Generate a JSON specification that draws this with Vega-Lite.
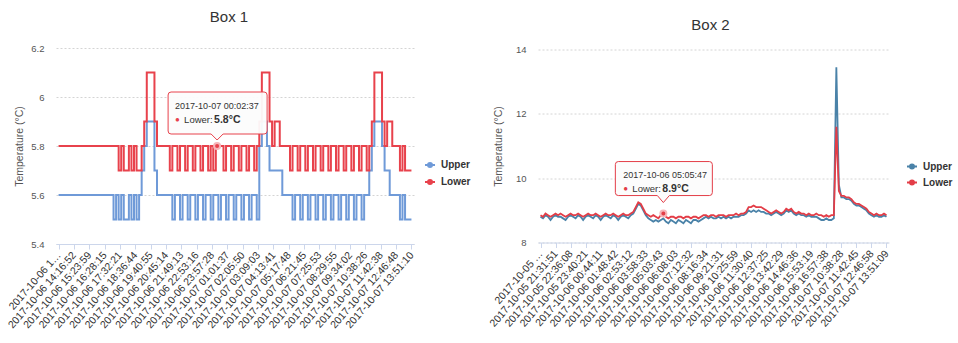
{
"$schema": "https://vega.github.io/schema/vega-lite/v6.json",
"background": "white",
"padding": {"left": 6, "top": 10, "right": 5, "bottom": 5},
"config": {
  "font": "Liberation Sans",
  "view": {"stroke": null},
  "title": {"fontSize": 15, "fontWeight": "normal", "color": "#333333", "anchor": "middle"},
  "axis": {"labelFont": "Liberation Sans", "titleFont": "Liberation Sans"},
  "legend": {"labelFont": "Liberation Sans"}
},
"spacing": 124,
"bounds": "flush",
"center": true,
"resolve": {"scale": {"x": "independent", "y": "independent", "color": "independent"}, "legend": {"color": "independent"}},
"hconcat": [
{
  "width": 358, "height": 196,
  "title": {"text": "Box 1", "offset": 6, "baseline": "alphabetic", "dx": -6},
  "layer": [
    {
      "data": {"values": [
{"t":"2017-10-06 13:12:41","Upper":5.6,"Lower":5.8},{"t":"2017-10-06 13:23:41","Upper":5.6,"Lower":5.8},{"t":"2017-10-06 13:33:41","Upper":5.6,"Lower":5.8},{"t":"2017-10-06 13:44:41","Upper":5.6,"Lower":5.8},{"t":"2017-10-06 13:55:41","Upper":5.6,"Lower":5.8},{"t":"2017-10-06 14:05:41","Upper":5.6,"Lower":5.8},
{"t":"2017-10-06 14:16:52","Upper":5.6,"Lower":5.8},{"t":"2017-10-06 14:27:52","Upper":5.6,"Lower":5.8},{"t":"2017-10-06 14:37:52","Upper":5.6,"Lower":5.8},{"t":"2017-10-06 14:48:52","Upper":5.6,"Lower":5.8},{"t":"2017-10-06 14:59:52","Upper":5.6,"Lower":5.8},{"t":"2017-10-06 15:09:52","Upper":5.6,"Lower":5.8},
{"t":"2017-10-06 15:23:59","Upper":5.6,"Lower":5.8},{"t":"2017-10-06 15:34:59","Upper":5.6,"Lower":5.8},{"t":"2017-10-06 15:44:59","Upper":5.6,"Lower":5.8},{"t":"2017-10-06 15:55:59","Upper":5.6,"Lower":5.8},{"t":"2017-10-06 16:06:59","Upper":5.6,"Lower":5.8},{"t":"2017-10-06 16:16:59","Upper":5.6,"Lower":5.8},
{"t":"2017-10-06 16:28:15","Upper":5.6,"Lower":5.8},{"t":"2017-10-06 16:39:15","Upper":5.6,"Lower":5.8},{"t":"2017-10-06 16:49:15","Upper":5.6,"Lower":5.8},{"t":"2017-10-06 17:00:15","Upper":5.6,"Lower":5.8},{"t":"2017-10-06 17:11:15","Upper":5.5,"Lower":5.8},{"t":"2017-10-06 17:21:15","Upper":5.6,"Lower":5.8},
{"t":"2017-10-06 17:32:21","Upper":5.5,"Lower":5.7},{"t":"2017-10-06 17:43:21","Upper":5.6,"Lower":5.8},{"t":"2017-10-06 17:53:21","Upper":5.5,"Lower":5.7},{"t":"2017-10-06 18:04:21","Upper":5.5,"Lower":5.7},{"t":"2017-10-06 18:15:21","Upper":5.6,"Lower":5.8},{"t":"2017-10-06 18:25:21","Upper":5.5,"Lower":5.7},
{"t":"2017-10-06 18:36:44","Upper":5.6,"Lower":5.8},{"t":"2017-10-06 18:47:44","Upper":5.5,"Lower":5.7},{"t":"2017-10-06 18:57:44","Upper":5.6,"Lower":5.7},{"t":"2017-10-06 19:08:44","Upper":5.7,"Lower":5.8},{"t":"2017-10-06 19:19:44","Upper":5.8,"Lower":5.9},{"t":"2017-10-06 19:29:44","Upper":5.9,"Lower":6.1},
{"t":"2017-10-06 19:40:55","Upper":5.9,"Lower":6.1},{"t":"2017-10-06 19:51:55","Upper":5.9,"Lower":6.1},{"t":"2017-10-06 20:01:55","Upper":5.7,"Lower":5.9},{"t":"2017-10-06 20:12:55","Upper":5.6,"Lower":5.8},{"t":"2017-10-06 20:23:55","Upper":5.6,"Lower":5.8},{"t":"2017-10-06 20:33:55","Upper":5.6,"Lower":5.8},
{"t":"2017-10-06 20:45:14","Upper":5.6,"Lower":5.8},{"t":"2017-10-06 20:56:14","Upper":5.6,"Lower":5.8},{"t":"2017-10-06 21:06:14","Upper":5.6,"Lower":5.7},{"t":"2017-10-06 21:17:14","Upper":5.5,"Lower":5.8},{"t":"2017-10-06 21:28:14","Upper":5.6,"Lower":5.8},{"t":"2017-10-06 21:38:14","Upper":5.6,"Lower":5.7},
{"t":"2017-10-06 21:49:13","Upper":5.5,"Lower":5.8},{"t":"2017-10-06 22:00:13","Upper":5.6,"Lower":5.8},{"t":"2017-10-06 22:10:13","Upper":5.6,"Lower":5.7},{"t":"2017-10-06 22:21:13","Upper":5.5,"Lower":5.8},{"t":"2017-10-06 22:32:13","Upper":5.6,"Lower":5.8},{"t":"2017-10-06 22:42:13","Upper":5.6,"Lower":5.7},
{"t":"2017-10-06 22:53:16","Upper":5.5,"Lower":5.8},{"t":"2017-10-06 23:04:16","Upper":5.6,"Lower":5.8},{"t":"2017-10-06 23:14:16","Upper":5.6,"Lower":5.7},{"t":"2017-10-06 23:25:16","Upper":5.5,"Lower":5.8},{"t":"2017-10-06 23:36:16","Upper":5.6,"Lower":5.8},{"t":"2017-10-06 23:46:16","Upper":5.6,"Lower":5.7},
{"t":"2017-10-06 23:57:28","Upper":5.5,"Lower":5.8},{"t":"2017-10-07 00:00:03","Upper":5.6,"Lower":5.7},{"t":"2017-10-07 00:02:37","Upper":5.6,"Lower":5.8},{"t":"2017-10-07 00:19:28","Upper":5.5,"Lower":5.8},{"t":"2017-10-07 00:33:28","Upper":5.6,"Lower":5.8},{"t":"2017-10-07 00:47:28","Upper":5.6,"Lower":5.7},
{"t":"2017-10-07 01:01:37","Upper":5.5,"Lower":5.8},{"t":"2017-10-07 01:12:37","Upper":5.6,"Lower":5.8},{"t":"2017-10-07 01:22:37","Upper":5.6,"Lower":5.7},{"t":"2017-10-07 01:33:37","Upper":5.5,"Lower":5.8},{"t":"2017-10-07 01:44:37","Upper":5.6,"Lower":5.8},{"t":"2017-10-07 01:54:37","Upper":5.6,"Lower":5.7},
{"t":"2017-10-07 02:05:50","Upper":5.5,"Lower":5.8},{"t":"2017-10-07 02:16:50","Upper":5.6,"Lower":5.8},{"t":"2017-10-07 02:26:50","Upper":5.6,"Lower":5.7},{"t":"2017-10-07 02:37:50","Upper":5.5,"Lower":5.8},{"t":"2017-10-07 02:48:50","Upper":5.6,"Lower":5.8},{"t":"2017-10-07 02:58:50","Upper":5.6,"Lower":5.7},
{"t":"2017-10-07 03:09:03","Upper":5.5,"Lower":5.8},{"t":"2017-10-07 03:20:03","Upper":5.8,"Lower":5.9},{"t":"2017-10-07 03:30:03","Upper":5.9,"Lower":6.1},{"t":"2017-10-07 03:41:03","Upper":5.9,"Lower":6.1},{"t":"2017-10-07 03:52:03","Upper":5.8,"Lower":6.1},{"t":"2017-10-07 04:02:03","Upper":5.7,"Lower":5.9},
{"t":"2017-10-07 04:13:41","Upper":5.7,"Lower":5.8},{"t":"2017-10-07 04:24:41","Upper":5.7,"Lower":5.9},{"t":"2017-10-07 04:34:41","Upper":5.7,"Lower":5.9},{"t":"2017-10-07 04:45:41","Upper":5.7,"Lower":5.8},{"t":"2017-10-07 04:56:41","Upper":5.6,"Lower":5.8},{"t":"2017-10-07 05:06:41","Upper":5.6,"Lower":5.8},
{"t":"2017-10-07 05:17:48","Upper":5.6,"Lower":5.8},{"t":"2017-10-07 05:28:48","Upper":5.6,"Lower":5.7},{"t":"2017-10-07 05:38:48","Upper":5.5,"Lower":5.8},{"t":"2017-10-07 05:49:48","Upper":5.6,"Lower":5.8},{"t":"2017-10-07 06:00:48","Upper":5.6,"Lower":5.7},{"t":"2017-10-07 06:10:48","Upper":5.5,"Lower":5.8},
{"t":"2017-10-07 06:21:45","Upper":5.6,"Lower":5.8},{"t":"2017-10-07 06:32:45","Upper":5.6,"Lower":5.7},{"t":"2017-10-07 06:42:45","Upper":5.5,"Lower":5.8},{"t":"2017-10-07 06:53:45","Upper":5.6,"Lower":5.8},{"t":"2017-10-07 07:04:45","Upper":5.6,"Lower":5.7},{"t":"2017-10-07 07:14:45","Upper":5.5,"Lower":5.8},
{"t":"2017-10-07 07:25:53","Upper":5.6,"Lower":5.8},{"t":"2017-10-07 07:36:53","Upper":5.6,"Lower":5.7},{"t":"2017-10-07 07:46:53","Upper":5.5,"Lower":5.8},{"t":"2017-10-07 07:57:53","Upper":5.6,"Lower":5.8},{"t":"2017-10-07 08:08:53","Upper":5.6,"Lower":5.7},{"t":"2017-10-07 08:18:53","Upper":5.5,"Lower":5.8},
{"t":"2017-10-07 08:29:55","Upper":5.6,"Lower":5.8},{"t":"2017-10-07 08:40:55","Upper":5.6,"Lower":5.7},{"t":"2017-10-07 08:50:55","Upper":5.5,"Lower":5.8},{"t":"2017-10-07 09:01:55","Upper":5.6,"Lower":5.8},{"t":"2017-10-07 09:12:55","Upper":5.6,"Lower":5.7},{"t":"2017-10-07 09:22:55","Upper":5.5,"Lower":5.8},
{"t":"2017-10-07 09:34:02","Upper":5.6,"Lower":5.8},{"t":"2017-10-07 09:45:02","Upper":5.6,"Lower":5.7},{"t":"2017-10-07 09:55:02","Upper":5.5,"Lower":5.8},{"t":"2017-10-07 10:06:02","Upper":5.6,"Lower":5.8},{"t":"2017-10-07 10:17:02","Upper":5.6,"Lower":5.7},{"t":"2017-10-07 10:27:02","Upper":5.5,"Lower":5.8},
{"t":"2017-10-07 10:38:26","Upper":5.6,"Lower":5.8},{"t":"2017-10-07 10:49:26","Upper":5.6,"Lower":5.7},{"t":"2017-10-07 10:59:26","Upper":5.7,"Lower":5.8},{"t":"2017-10-07 11:10:26","Upper":5.8,"Lower":5.9},{"t":"2017-10-07 11:21:26","Upper":5.9,"Lower":6.1},{"t":"2017-10-07 11:31:26","Upper":5.9,"Lower":6.1},
{"t":"2017-10-07 11:42:38","Upper":5.9,"Lower":6.1},{"t":"2017-10-07 11:53:38","Upper":5.8,"Lower":5.9},{"t":"2017-10-07 12:03:38","Upper":5.7,"Lower":5.8},{"t":"2017-10-07 12:14:38","Upper":5.7,"Lower":5.9},{"t":"2017-10-07 12:25:38","Upper":5.6,"Lower":5.9},{"t":"2017-10-07 12:35:38","Upper":5.6,"Lower":5.8},
{"t":"2017-10-07 12:46:48","Upper":5.6,"Lower":5.8},{"t":"2017-10-07 12:57:48","Upper":5.6,"Lower":5.8},{"t":"2017-10-07 13:07:48","Upper":5.5,"Lower":5.7},{"t":"2017-10-07 13:18:48","Upper":5.6,"Lower":5.8},{"t":"2017-10-07 13:29:48","Upper":5.5,"Lower":5.7},{"t":"2017-10-07 13:39:48","Upper":5.5,"Lower":5.7},
{"t":"2017-10-07 13:51:10","Upper":5.5,"Lower":5.7}
      ]},
      "transform": [{"fold": ["Upper", "Lower"], "as": ["series", "temp"]}],
      "mark": {"type": "line", "strokeWidth": 2, "interpolate": "step"},
      "encoding": {
        "x": {"field": "t", "type": "ordinal", "scale": {"type": "point", "padding": 1.2},
          "axis": {"title": null, "values": ["2017-10-06 13:12:41","2017-10-06 14:16:52","2017-10-06 15:23:59","2017-10-06 16:28:15","2017-10-06 17:32:21","2017-10-06 18:36:44","2017-10-06 19:40:55","2017-10-06 20:45:14","2017-10-06 21:49:13","2017-10-06 22:53:16","2017-10-06 23:57:28","2017-10-07 01:01:37","2017-10-07 02:05:50","2017-10-07 03:09:03","2017-10-07 04:13:41","2017-10-07 05:17:48","2017-10-07 06:21:45","2017-10-07 07:25:53","2017-10-07 08:29:55","2017-10-07 09:34:02","2017-10-07 10:38:26","2017-10-07 11:42:38","2017-10-07 12:46:48","2017-10-07 13:51:10"],
            "labelExpr": "datum.value == '2017-10-06 13:12:41' ? '2017-10-06 1…' : datum.label",
            "labelAngle": -49, "labelAlign": "right", "labelBaseline": "middle", "labelFontSize": 10.5, "labelColor": "#333333", "labelPadding": 4, "labelOverlap": false,
            "ticks": true, "tickSize": 5, "tickColor": "#ccd6eb", "domainColor": "#ccd6eb", "grid": false}},
        "y": {"field": "temp", "type": "quantitative", "scale": {"domain": [5.4, 6.2], "nice": false, "zero": false},
          "axis": {"title": "Temperature (°C)", "values": [5.4, 5.6, 5.8, 6.0, 6.2], "format": "~f", "domain": false, "ticks": false, "grid": true, "gridColor": "#d4d4d4", "gridDash": [2, 2],
            "labelFontSize": 9.5, "labelColor": "#555555", "labelPadding": 12, "titleFontSize": 10.5, "titleFontWeight": "normal", "titleColor": "#555555", "titlePadding": 6}},
        "color": {"field": "series", "type": "nominal", "scale": {"domain": ["Upper", "Lower"], "range": ["#6f9ad8", "#e8424c"]},
          "legend": {"orient": "none", "legendX": 368, "legendY": 111, "title": null, "padding": 0, "symbolType": "M-1,0H1M-0.4,0A0.4,0.4 0 1,0 0.4,0A0.4,0.4 0 1,0 -0.4,0", "symbolSize": 100, "symbolStrokeWidth": 2, "labelFontSize": 10, "labelFontWeight": "bold", "labelColor": "#333333", "rowPadding": 5, "labelOffset": 5}}
      }
    },
    {
      "data": {"values": [{"t": "2017-10-07 00:02:37", "temp": 5.8, "val": "5.8°C"}]},
      "encoding": {
        "x": {"field": "t", "type": "ordinal"},
        "y": {"field": "temp", "type": "quantitative"}
      },
      "layer": [
        {"mark": {"type": "point", "shape": "M-0.92,-1.08H0.94Q1,-1.08 1,-1.02V-0.3Q1,-0.24 0.94,-0.24H0.12L0,-0.12L-0.12,-0.24H-0.92Q-0.98,-0.24 -0.98,-0.3V-1.02Q-0.98,-1.08 -0.92,-1.08Z", "size": 10000, "filled": true, "fill": "#fcfcfc", "fillOpacity": 0.95, "stroke": "#e8424c", "strokeWidth": 1, "opacity": 1}},
        {"mark": {"type": "point", "shape": "circle", "size": 36, "filled": true, "fill": "#e8424c", "stroke": "#f6b5b9", "strokeWidth": 2, "opacity": 1}},
        {"mark": {"type": "text", "align": "left", "baseline": "middle", "dx": -42, "dy": -40, "fontSize": 9, "color": "#333333"}, "encoding": {"text": {"field": "t"}}},
        {"mark": {"type": "text", "text": "●", "align": "left", "baseline": "middle", "dx": -42, "dy": -26, "fontSize": 8, "color": "#e8424c"}},
        {"mark": {"type": "text", "text": "Lower:", "align": "left", "baseline": "middle", "dx": -33, "dy": -26, "fontSize": 9.5, "color": "#333333"}},
        {"mark": {"type": "text", "align": "left", "baseline": "middle", "dx": -3, "dy": -26, "fontSize": 10.5, "fontWeight": "bold", "color": "#333333"}, "encoding": {"text": {"field": "val"}}}
      ]
    }
  ]
},
{
  "width": 351, "height": 193,
  "title": {"text": "Box 2", "offset": 0, "baseline": "alphabetic", "dx": -3},
  "layer": [
    {
      "data": {"values": [
{"t":"2017-10-05 20:27:33","Upper":8.8,"Lower":8.85},{"t":"2017-10-05 20:38:33","Upper":8.75,"Lower":8.8},{"t":"2017-10-05 20:48:33","Upper":8.85,"Lower":8.9},{"t":"2017-10-05 20:59:33","Upper":8.8,"Lower":8.85},{"t":"2017-10-05 21:10:33","Upper":8.7,"Lower":8.8},{"t":"2017-10-05 21:20:33","Upper":8.8,"Lower":8.85},
{"t":"2017-10-05 21:31:51","Upper":8.85,"Lower":8.9},{"t":"2017-10-05 21:42:51","Upper":8.8,"Lower":8.85},{"t":"2017-10-05 21:52:51","Upper":8.8,"Lower":8.9},{"t":"2017-10-05 22:03:51","Upper":8.75,"Lower":8.85},{"t":"2017-10-05 22:14:51","Upper":8.7,"Lower":8.8},{"t":"2017-10-05 22:24:51","Upper":8.8,"Lower":8.85},
{"t":"2017-10-05 22:36:08","Upper":8.85,"Lower":8.9},{"t":"2017-10-05 22:47:08","Upper":8.8,"Lower":8.85},{"t":"2017-10-05 22:57:08","Upper":8.75,"Lower":8.85},{"t":"2017-10-05 23:08:08","Upper":8.85,"Lower":8.9},{"t":"2017-10-05 23:19:08","Upper":8.8,"Lower":8.85},{"t":"2017-10-05 23:29:08","Upper":8.7,"Lower":8.8},
{"t":"2017-10-05 23:40:21","Upper":8.8,"Lower":8.85},{"t":"2017-10-05 23:51:21","Upper":8.85,"Lower":8.9},{"t":"2017-10-06 00:01:21","Upper":8.8,"Lower":8.85},{"t":"2017-10-06 00:12:21","Upper":8.75,"Lower":8.85},{"t":"2017-10-06 00:23:21","Upper":8.85,"Lower":8.9},{"t":"2017-10-06 00:33:21","Upper":8.8,"Lower":8.85},
{"t":"2017-10-06 00:44:11","Upper":8.7,"Lower":8.8},{"t":"2017-10-06 00:55:11","Upper":8.8,"Lower":8.85},{"t":"2017-10-06 01:05:11","Upper":8.85,"Lower":8.9},{"t":"2017-10-06 01:16:11","Upper":8.8,"Lower":8.85},{"t":"2017-10-06 01:27:11","Upper":8.75,"Lower":8.85},{"t":"2017-10-06 01:37:11","Upper":8.85,"Lower":8.9},
{"t":"2017-10-06 01:48:42","Upper":8.8,"Lower":8.85},{"t":"2017-10-06 01:59:42","Upper":8.7,"Lower":8.8},{"t":"2017-10-06 02:09:42","Upper":8.8,"Lower":8.85},{"t":"2017-10-06 02:20:42","Upper":8.85,"Lower":8.9},{"t":"2017-10-06 02:31:42","Upper":8.8,"Lower":8.85},{"t":"2017-10-06 02:41:42","Upper":8.75,"Lower":8.85},
{"t":"2017-10-06 02:53:12","Upper":8.85,"Lower":8.9},{"t":"2017-10-06 03:04:12","Upper":8.9,"Lower":8.95},{"t":"2017-10-06 03:14:12","Upper":9.05,"Lower":9.1},{"t":"2017-10-06 03:25:12","Upper":9.2,"Lower":9.25},{"t":"2017-10-06 03:36:12","Upper":9.15,"Lower":9.2},{"t":"2017-10-06 03:46:12","Upper":9.0,"Lower":9.05},
{"t":"2017-10-06 03:58:33","Upper":8.85,"Lower":8.9},{"t":"2017-10-06 04:09:33","Upper":8.75,"Lower":8.85},{"t":"2017-10-06 04:19:33","Upper":8.7,"Lower":8.8},{"t":"2017-10-06 04:30:33","Upper":8.65,"Lower":8.85},{"t":"2017-10-06 04:41:33","Upper":8.7,"Lower":8.8},{"t":"2017-10-06 04:51:33","Upper":8.65,"Lower":8.75},
{"t":"2017-10-06 05:03:43","Upper":8.7,"Lower":8.85},{"t":"2017-10-06 05:05:47","Upper":8.75,"Lower":8.9},{"t":"2017-10-06 05:19:43","Upper":8.65,"Lower":8.8},{"t":"2017-10-06 05:31:43","Upper":8.6,"Lower":8.75},{"t":"2017-10-06 05:43:43","Upper":8.7,"Lower":8.8},{"t":"2017-10-06 05:55:43","Upper":8.65,"Lower":8.8},
{"t":"2017-10-06 06:08:03","Upper":8.6,"Lower":8.75},{"t":"2017-10-06 06:19:03","Upper":8.7,"Lower":8.8},{"t":"2017-10-06 06:29:03","Upper":8.65,"Lower":8.8},{"t":"2017-10-06 06:40:03","Upper":8.6,"Lower":8.75},{"t":"2017-10-06 06:51:03","Upper":8.7,"Lower":8.8},{"t":"2017-10-06 07:01:03","Upper":8.65,"Lower":8.8},
{"t":"2017-10-06 07:12:32","Upper":8.6,"Lower":8.75},{"t":"2017-10-06 07:23:32","Upper":8.7,"Lower":8.8},{"t":"2017-10-06 07:33:32","Upper":8.7,"Lower":8.8},{"t":"2017-10-06 07:44:32","Upper":8.65,"Lower":8.75},{"t":"2017-10-06 07:55:32","Upper":8.7,"Lower":8.8},{"t":"2017-10-06 08:05:32","Upper":8.75,"Lower":8.85},
{"t":"2017-10-06 08:16:34","Upper":8.8,"Lower":8.85},{"t":"2017-10-06 08:27:34","Upper":8.75,"Lower":8.8},{"t":"2017-10-06 08:37:34","Upper":8.8,"Lower":8.85},{"t":"2017-10-06 08:48:34","Upper":8.75,"Lower":8.85},{"t":"2017-10-06 08:59:34","Upper":8.75,"Lower":8.8},{"t":"2017-10-06 09:09:34","Upper":8.8,"Lower":8.85},
{"t":"2017-10-06 09:21:31","Upper":8.75,"Lower":8.85},{"t":"2017-10-06 09:32:31","Upper":8.8,"Lower":8.85},{"t":"2017-10-06 09:42:31","Upper":8.75,"Lower":8.8},{"t":"2017-10-06 09:53:31","Upper":8.8,"Lower":8.85},{"t":"2017-10-06 10:04:31","Upper":8.75,"Lower":8.85},{"t":"2017-10-06 10:14:31","Upper":8.8,"Lower":8.85},
{"t":"2017-10-06 10:25:59","Upper":8.8,"Lower":8.9},{"t":"2017-10-06 10:36:59","Upper":8.8,"Lower":8.85},{"t":"2017-10-06 10:46:59","Upper":8.85,"Lower":8.9},{"t":"2017-10-06 10:57:59","Upper":8.85,"Lower":8.9},{"t":"2017-10-06 11:08:59","Upper":8.9,"Lower":8.95},{"t":"2017-10-06 11:18:59","Upper":9.0,"Lower":9.1},
{"t":"2017-10-06 11:30:40","Upper":8.95,"Lower":9.1},{"t":"2017-10-06 11:41:40","Upper":9.0,"Lower":9.15},{"t":"2017-10-06 11:51:40","Upper":8.95,"Lower":9.1},{"t":"2017-10-06 12:02:40","Upper":9.0,"Lower":9.1},{"t":"2017-10-06 12:13:40","Upper":8.95,"Lower":9.1},{"t":"2017-10-06 12:23:40","Upper":8.95,"Lower":9.05},
{"t":"2017-10-06 12:37:25","Upper":8.9,"Lower":9.0},{"t":"2017-10-06 12:48:25","Upper":8.9,"Lower":8.95},{"t":"2017-10-06 12:58:25","Upper":8.85,"Lower":8.9},{"t":"2017-10-06 13:09:25","Upper":8.9,"Lower":8.95},{"t":"2017-10-06 13:20:25","Upper":8.95,"Lower":9.0},{"t":"2017-10-06 13:30:25","Upper":8.9,"Lower":8.95},
{"t":"2017-10-06 13:42:29","Upper":8.85,"Lower":8.9},{"t":"2017-10-06 13:53:29","Upper":8.9,"Lower":8.95},{"t":"2017-10-06 14:03:29","Upper":9.0,"Lower":9.05},{"t":"2017-10-06 14:14:29","Upper":8.95,"Lower":9.0},{"t":"2017-10-06 14:25:29","Upper":9.0,"Lower":9.05},{"t":"2017-10-06 14:35:29","Upper":8.9,"Lower":8.95},
{"t":"2017-10-06 14:46:36","Upper":8.85,"Lower":8.9},{"t":"2017-10-06 14:57:36","Upper":8.9,"Lower":8.95},{"t":"2017-10-06 15:07:36","Upper":8.85,"Lower":8.9},{"t":"2017-10-06 15:18:36","Upper":8.85,"Lower":8.9},{"t":"2017-10-06 15:29:36","Upper":8.8,"Lower":8.85},{"t":"2017-10-06 15:39:36","Upper":8.85,"Lower":8.9},
{"t":"2017-10-06 15:53:19","Upper":8.8,"Lower":8.85},{"t":"2017-10-06 16:04:19","Upper":8.8,"Lower":8.85},{"t":"2017-10-06 16:14:19","Upper":8.8,"Lower":8.9},{"t":"2017-10-06 16:25:19","Upper":8.75,"Lower":8.85},{"t":"2017-10-06 16:36:19","Upper":8.7,"Lower":8.85},{"t":"2017-10-06 16:46:19","Upper":8.7,"Lower":8.8},
{"t":"2017-10-06 16:57:38","Upper":8.75,"Lower":8.85},{"t":"2017-10-06 17:08:38","Upper":8.7,"Lower":8.8},{"t":"2017-10-06 17:18:38","Upper":8.7,"Lower":8.85},{"t":"2017-10-06 17:29:38","Upper":8.75,"Lower":8.85},{"t":"2017-10-06 17:40:38","Upper":13.45,"Lower":11.6},{"t":"2017-10-06 17:50:38","Upper":9.8,"Lower":9.6},
{"t":"2017-10-07 10:38:28","Upper":9.4,"Lower":9.45},{"t":"2017-10-07 10:49:28","Upper":9.4,"Lower":9.45},{"t":"2017-10-07 10:59:28","Upper":9.35,"Lower":9.4},{"t":"2017-10-07 11:10:28","Upper":9.35,"Lower":9.4},{"t":"2017-10-07 11:21:28","Upper":9.3,"Lower":9.35},{"t":"2017-10-07 11:31:28","Upper":9.2,"Lower":9.25},
{"t":"2017-10-07 11:42:45","Upper":9.15,"Lower":9.2},{"t":"2017-10-07 11:53:45","Upper":9.15,"Lower":9.2},{"t":"2017-10-07 12:03:45","Upper":9.1,"Lower":9.15},{"t":"2017-10-07 12:14:45","Upper":9.05,"Lower":9.1},{"t":"2017-10-07 12:25:45","Upper":9.0,"Lower":9.05},{"t":"2017-10-07 12:35:45","Upper":8.9,"Lower":8.95},
{"t":"2017-10-07 12:46:58","Upper":8.85,"Lower":8.9},{"t":"2017-10-07 12:57:58","Upper":8.8,"Lower":8.85},{"t":"2017-10-07 13:07:58","Upper":8.85,"Lower":8.9},{"t":"2017-10-07 13:18:58","Upper":8.8,"Lower":8.85},{"t":"2017-10-07 13:29:58","Upper":8.8,"Lower":8.85},{"t":"2017-10-07 13:39:58","Upper":8.85,"Lower":8.9},
{"t":"2017-10-07 13:51:09","Upper":8.8,"Lower":8.85}
      ]},
      "transform": [{"fold": ["Upper", "Lower"], "as": ["series", "temp"]}],
      "mark": {"type": "line", "strokeWidth": 1.8},
      "encoding": {
        "x": {"field": "t", "type": "ordinal", "scale": {"type": "point", "padding": 1.2},
          "axis": {"title": null, "values": ["2017-10-05 20:27:33","2017-10-05 21:31:51","2017-10-05 22:36:08","2017-10-05 23:40:21","2017-10-06 00:44:11","2017-10-06 01:48:42","2017-10-06 02:53:12","2017-10-06 03:58:33","2017-10-06 05:03:43","2017-10-06 06:08:03","2017-10-06 07:12:32","2017-10-06 08:16:34","2017-10-06 09:21:31","2017-10-06 10:25:59","2017-10-06 11:30:40","2017-10-06 12:37:25","2017-10-06 13:42:29","2017-10-06 14:46:36","2017-10-06 15:53:19","2017-10-06 16:57:38","2017-10-07 10:38:28","2017-10-07 11:42:45","2017-10-07 12:46:58","2017-10-07 13:51:09"],
            "labelExpr": "datum.value == '2017-10-05 20:27:33' ? '2017-10-05 …' : datum.label",
            "labelAngle": -49, "labelAlign": "right", "labelBaseline": "middle", "labelFontSize": 10.5, "labelColor": "#333333", "labelPadding": 4, "labelOverlap": false,
            "ticks": true, "tickSize": 5, "tickColor": "#ccd6eb", "domainColor": "#ccd6eb", "grid": false}},
        "y": {"field": "temp", "type": "quantitative", "scale": {"domain": [8, 14], "nice": false, "zero": false},
          "axis": {"title": "Temperature (°C)", "values": [8, 10, 12, 14], "domain": false, "ticks": false, "grid": true, "gridColor": "#d4d4d4", "gridDash": [2, 2],
            "labelFontSize": 9.5, "labelColor": "#555555", "labelPadding": 12, "titleFontSize": 10.5, "titleFontWeight": "normal", "titleColor": "#555555", "titlePadding": 12}},
        "color": {"field": "series", "type": "nominal", "scale": {"domain": ["Upper", "Lower"], "range": ["#4a82a8", "#e33d47"]},
          "legend": {"orient": "none", "legendX": 368, "legendY": 111, "title": null, "padding": 0, "symbolType": "M-1,0H1M-0.4,0A0.4,0.4 0 1,0 0.4,0A0.4,0.4 0 1,0 -0.4,0", "symbolSize": 100, "symbolStrokeWidth": 2, "labelFontSize": 10, "labelFontWeight": "bold", "labelColor": "#333333", "rowPadding": 4, "labelOffset": 5}}
      }
    },
    {
      "data": {"values": [{"t": "2017-10-06 05:05:47", "temp": 8.9, "val": "8.9°C"}]},
      "encoding": {
        "x": {"field": "t", "type": "ordinal"},
        "y": {"field": "temp", "type": "quantitative"}
      },
      "layer": [
        {"mark": {"type": "point", "shape": "M-0.9,-1.04H0.92Q0.98,-1.04 0.98,-0.98V-0.42Q0.98,-0.36 0.92,-0.36H0.12L0,-0.22L-0.12,-0.36H-0.9Q-0.96,-0.36 -0.96,-0.42V-0.98Q-0.96,-1.04 -0.9,-1.04Z", "size": 10000, "filled": true, "fill": "#fcfcfc", "fillOpacity": 0.95, "stroke": "#e33d47", "strokeWidth": 1, "opacity": 1}},
        {"mark": {"type": "point", "shape": "circle", "size": 36, "filled": true, "fill": "#e33d47", "stroke": "#f6b5b9", "strokeWidth": 2, "opacity": 1}},
        {"mark": {"type": "text", "align": "left", "baseline": "middle", "dx": -40, "dy": -39, "fontSize": 9, "color": "#333333"}, "encoding": {"text": {"field": "t"}}},
        {"mark": {"type": "text", "text": "●", "align": "left", "baseline": "middle", "dx": -40, "dy": -25, "fontSize": 8, "color": "#e33d47"}},
        {"mark": {"type": "text", "text": "Lower:", "align": "left", "baseline": "middle", "dx": -31, "dy": -25, "fontSize": 9.5, "color": "#333333"}},
        {"mark": {"type": "text", "align": "left", "baseline": "middle", "dx": -1, "dy": -25, "fontSize": 10.5, "fontWeight": "bold", "color": "#333333"}, "encoding": {"text": {"field": "val"}}}
      ]
    }
  ]
}
]
}
